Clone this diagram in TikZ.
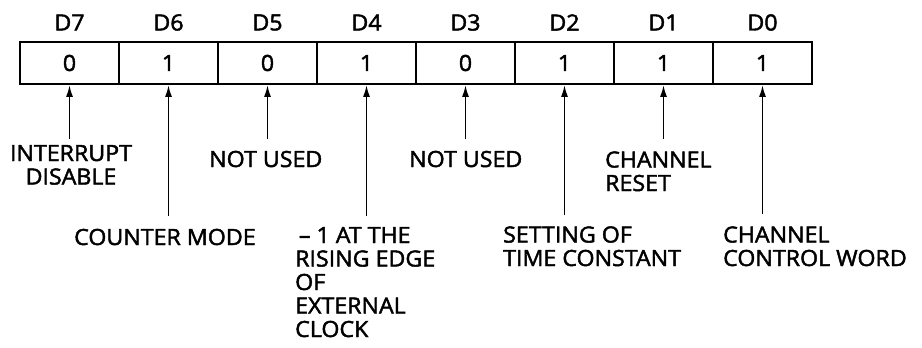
\documentclass[tikz,border=0pt]{standalone}
\usepackage{fontspec}
\setmainfont{Open Sans}[FakeBold=2, FakeStretch=1.04]
\usetikzlibrary{arrows.meta}
\begin{document}
\begin{tikzpicture}[x=1pt,y=-1pt,
  txt/.style={font=\fontsize{22.3}{23.5}\selectfont, inner sep=0pt},
  cell/.style={draw, line width=1.8pt, minimum width=99pt, minimum height=42pt, inner sep=0pt,
               font=\fontsize{22.3}{23.5}\selectfont},
  ptr/.style={line width=1.7pt, -{Latex[length=12pt,width=7pt]}}]
\useasboundingbox (0,0) rectangle (922,348);
% register cells
\foreach \v [count=\i from 0] in {0,1,0,1,0,1,1,1}{
  \pgfmathtruncatemacro{\bit}{7-\i}
  \node[cell] (c\bit) at ({69.5+99*\i},63) {\v};
  \node[txt] (d\bit) at ({69.5+99*\i},22.5) {D\bit};
}
% arrow free ends
\coordinate (a7) at (69.5,139);
\coordinate (a6) at (168.5,216);
\coordinate (a5) at (267.5,139);
\coordinate (a4) at (366.5,216);
\coordinate (a3) at (465.5,139);
\coordinate (a2) at (564.5,215);
\coordinate (a1) at (663.5,139);
\coordinate (a0) at (762.5,214);
\foreach \b in {0,...,7}{ \draw[ptr] (a\b) -- (c\b.south); }
% labels (multi-line nodes: base anchor = last line baseline)
\node[txt, align=center, anchor=base] (l7) at (71,184.5) {INTERRUPT\\DISABLE};
\node[txt, anchor=base west] (l6) at (74,245) {COUNTER MODE};
\node[txt, anchor=base west] (l5) at (209,167) {NOT USED};
\node[txt, align=left, anchor=base west] (l4) at (295,337) {\,– 1 AT THE\\RISING EDGE\\OF\\EXTERNAL\\CLOCK};
\node[txt, anchor=base west] (l3) at (409,167) {NOT USED};
\node[txt, align=left, anchor=base west] (l2) at (503,266) {SETTING OF\\TIME CONSTANT};
\node[txt, align=left, anchor=base west] (l1) at (605,191) {CHANNEL\\RESET};
\node[txt, align=left, anchor=base west] (l0) at (723,266) {CHANNEL\\CONTROL WORD};
\end{tikzpicture}
\end{document}
